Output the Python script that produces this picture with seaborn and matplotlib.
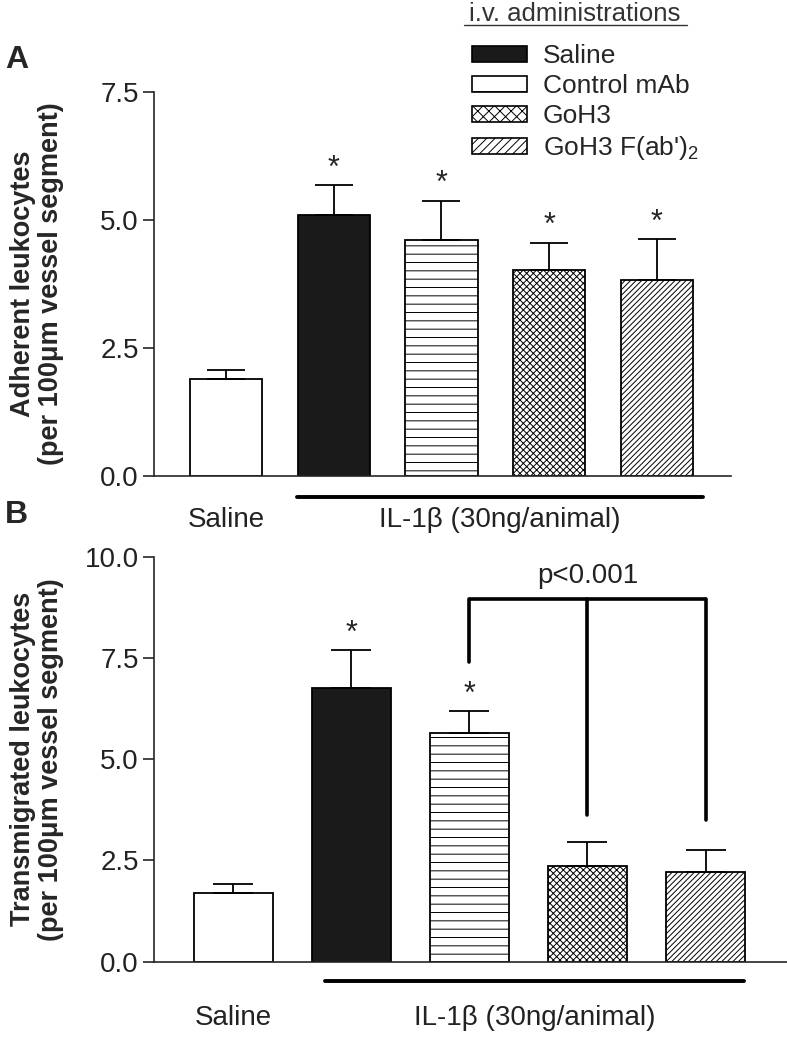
import matplotlib
matplotlib.use("Agg")
import matplotlib.pyplot as plt
from matplotlib.lines import Line2D
from matplotlib.patches import Patch
from matplotlib.ticker import FormatStrFormatter
import seaborn as sns
import pandas as pd

# data
groups = ["Saline", "IL-1b Saline", "IL-1b Control mAb", "IL-1b GoH3", "IL-1b GoH3 F(ab')2"]
legend_labels = ["Saline", "Control mAb", "GoH3", "GoH3 F(ab')$_2$"]
adherent_mean = [1.90, 5.10, 4.61, 4.02, 3.83]
adherent_sem = [0.17, 0.58, 0.77, 0.54, 0.80]
adherent_star = [False, True, True, True, True]
transmig_mean = [1.69, 6.75, 5.64, 2.37, 2.22]
transmig_sem = [0.23, 0.95, 0.55, 0.59, 0.54]
transmig_star = [False, True, True, False, False]
# p<0.001 bracket: Control mAb vs GoH3 and GoH3 F(ab')2
bracket_bars = [2, 3, 4]
bracket_top = 8.96
bracket_ends = [7.40, 3.62, 3.50]

face_colors = ["white", "#1a1a1a", "white", "white", "white"]
hatches = ["", "", "--", "xxxxx", "//////"]

sns.set_style("ticks")
plt.rcParams["font.family"] = ["Liberation Sans", "DejaVu Sans"]
plt.rcParams["mathtext.fontset"] = "custom"
plt.rcParams["mathtext.rm"] = "Liberation Sans"
plt.rcParams["hatch.linewidth"] = 0.7
plt.rcParams["axes.linewidth"] = 1.2

TICK_FS = 20


def draw_panel(ax, means, sems, stars, ymax, cap):
    df = pd.DataFrame({"group": groups, "value": means})
    sns.barplot(data=df, x="group", y="value", hue="group", order=groups,
                hue_order=groups, palette=face_colors, saturation=1,
                width=0.67, edgecolor="black", linewidth=1.3,
                errorbar=None, legend=False, ax=ax)
    for patch, h in zip(ax.patches, hatches):
        patch.set_hatch(h)
    xs = list(range(len(groups)))
    ax.errorbar(xs, means, yerr=[[0] * len(sems), sems], fmt="none",
                ecolor="black", elinewidth=1.3, capsize=cap, capthick=1.3,
                zorder=5)
    for i, s in enumerate(stars):
        if s:
            ax.annotate("*", (i, means[i] + sems[i]), xytext=(0, 1),
                        textcoords="offset points", ha="center", va="bottom",
                        fontsize=22)
    ax.set_xlim(-0.67, 4.69)
    ax.set_ylim(0, ymax)
    ax.set_xticks([])
    ax.set_xlabel("")
    ax.yaxis.set_major_formatter(FormatStrFormatter("%.1f"))
    ax.tick_params(axis="y", length=8, width=1.2, pad=3, labelsize=TICK_FS,
                   labelcolor="#222222")
    sns.despine(ax=ax)


fig = plt.figure(figsize=(7.87, 10.43), dpi=100)
axA = fig.add_axes([0.1957, 0.5436, 0.7332, 0.3682])
axB = fig.add_axes([0.1957, 0.0780, 0.8043, 0.3883])

draw_panel(axA, adherent_mean, adherent_sem, adherent_star, 7.5, 13.5)
axA.set_yticks([0, 2.5, 5.0, 7.5])
axA.set_ylabel("Adherent leukocytes\n(per 100μm vessel segment)",
               fontsize=19.5, fontweight="bold", linespacing=1.1)
axA.yaxis.set_label_coords(-0.156, 0.5)

draw_panel(axB, transmig_mean, transmig_sem, transmig_star, 10.0, 14.5)
axB.set_yticks([0, 2.5, 5.0, 7.5, 10.0])
axB.set_ylabel("Transmigrated leukocytes\n(per 100μm vessel segment)",
               fontsize=19.5, fontweight="bold", linespacing=1.1)
axB.yaxis.set_label_coords(-0.142, 0.5)

# group labels below the axes
for ax, line_x, line_y, text_y in [(axA, (0.66, 4.43), -0.055, -0.115),
                                   (axB, (0.78, 4.33), -0.048, -0.139)]:
    tr = ax.get_xaxis_transform()
    ax.plot(line_x, [line_y, line_y], color="black", lw=2.8,
            transform=tr, clip_on=False)
    ax.text(0, text_y, "Saline", transform=tr, ha="center", va="center",
            fontsize=TICK_FS, color="#222222")
    ax.text(sum(line_x) / 2, text_y, "IL-1β (30ng/animal)", transform=tr,
            ha="center", va="center", fontsize=TICK_FS, color="#222222")

# bracket in panel B
axB.plot(bracket_bars[::2], [bracket_top, bracket_top], color="black",
         lw=2.6, solid_capstyle="butt")
for bx, by in zip(bracket_bars, bracket_ends):
    axB.plot([bx, bx], [bracket_top, by], color="black", lw=2.6,
             solid_capstyle="round")
axB.text(bracket_bars[1], bracket_top + 0.25, "p<0.001", ha="center",
         va="bottom", fontsize=TICK_FS, color="#222222")

# legend
handles = [Patch(facecolor=c, edgecolor="black", hatch=h, linewidth=1.2)
           for c, h in zip(face_colors[1:], ["", "-", "xxx", "////"])]
axA.legend(handles, legend_labels, loc="upper left",
           bbox_to_anchor=(472 / 787, 1 - 44 / 1043),
           bbox_transform=fig.transFigure, frameon=False, fontsize=19,
           handlelength=2.08, handleheight=0.57, handletextpad=0.6,
           labelspacing=0.23, borderpad=0, borderaxespad=0)
fig.text(575 / 787, 1 - 14 / 1043, "i.v. administrations", ha="center",
         va="center", fontsize=18.5, color="#333333")
fig.add_artist(Line2D([464 / 787, 687 / 787], [1 - 25 / 1043, 1 - 25 / 1043],
                      color="#333333", lw=1.0))

# panel letters
fig.text(5 / 787, 1 - 60 / 1043, "A", fontsize=23, fontweight="bold",
         va="center")
fig.text(5 / 787, 1 - 515 / 1043, "B", fontsize=23, fontweight="bold",
         va="center")

fig.savefig("out.png", dpi=100)
